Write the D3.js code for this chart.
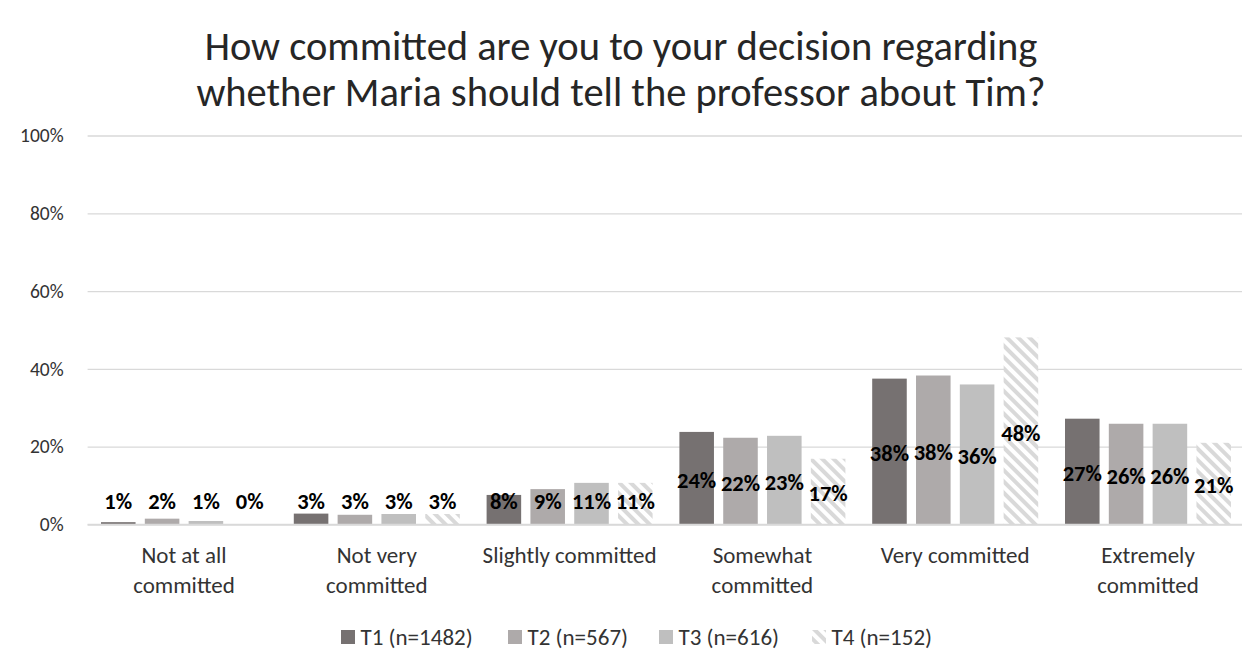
<!DOCTYPE html>
<html>
<head>
<meta charset="utf-8">
<script src="https://cdn.jsdelivr.net/npm/d3@7"></script>
<style>
  html, body { margin: 0; padding: 0; background: #fff; }
  svg { display: block; font-family: Carlito, Calibri, Lato, "Open Sans", sans-serif; }
</style>
</head>
<body>
<svg id="chart" width="1242" height="652"></svg>
<script>
// Commitment levels (x categories), each may wrap onto two lines
const categories = [
  "Not at all committed",
  "Not very committed",
  "Slightly committed",
  "Somewhat committed",
  "Very committed",
  "Extremely committed"
];
const categoryLines = [
  ["Not at all", "committed"],
  ["Not very", "committed"],
  ["Slightly committed"],
  ["Somewhat", "committed"],
  ["Very committed"],
  ["Extremely", "committed"]
];

// Series (time points) and their share of respondents, in percent
const seriesNames = ["T1 (n=1482)", "T2 (n=567)", "T3 (n=616)", "T4 (n=152)"];
const t1 = [0.6, 2.8, 7.6, 23.8, 37.5, 27.2];
const t2 = [1.5, 2.5, 9.1, 22.3, 38.3, 25.9];
const t3 = [0.9, 2.7, 10.7, 22.8, 36.0, 25.9];
const t4 = [0.0, 2.7, 10.7, 16.9, 48.1, 21.0];
const seriesValues = [t1, t2, t3, t4];

const yTicks = [0, 20, 40, 60, 80, 100];
const titleLines = [
  "How committed are you to your decision regarding",
  "whether Maria should tell the professor about Tim?"
];

const svg = d3.select("#chart");
const W = 1242, H = 652;
const plot = { left: 87.6, right: 1244.4, top: 135.5, bottom: 524.5 };

// Hatched fill for the last series
const defs = svg.append("defs");
const pat = defs.append("pattern")
  .attr("id", "hatch")
  .attr("patternUnits", "userSpaceOnUse")
  .attr("width", 8).attr("height", 8)
  .attr("patternTransform", "rotate(-45)");
pat.append("rect").attr("width", 8).attr("height", 8).attr("fill", "#fff");
pat.append("rect").attr("x", 0).attr("y", 0).attr("width", 4).attr("height", 8).attr("fill", "#d9d9d9");

const fills = ["#767171", "#aeaaaa", "#bfbfbf", "url(#hatch)"];
const textColor = "#333";

// Title
svg.append("text")
  .attr("x", W / 2).attr("y", 60)
  .attr("text-anchor", "middle")
  .attr("font-size", 40.5)
  .attr("fill", "#262626")
  .selectAll("tspan").data(titleLines).join("tspan")
  .attr("x", W / 2)
  .attr("dy", (d, i) => i === 0 ? 0 : 46)
  .text(d => d);

// Scales
const x = d3.scaleBand().domain(categories).range([plot.left, plot.right]).padding(0);
const step = x.bandwidth();
const outer = 13.4;
const xs = d3.scaleBand().domain(seriesNames)
  .range([outer, step - outer])
  .paddingInner(9.3 / 44)
  .paddingOuter(0);
const y = d3.scaleLinear().domain([0, 100]).range([plot.bottom, plot.top]);

// Gridlines and y axis labels
const yAxis = d3.axisLeft(y)
  .tickValues(yTicks)
  .tickSize(-(plot.right - plot.left))
  .tickPadding(24)
  .tickFormat(d => d + "%");
const gy = svg.append("g")
  .attr("transform", `translate(${plot.left},0)`)
  .call(yAxis);
gy.select(".domain").remove();
gy.selectAll(".tick line").attr("stroke", "#d9d9d9").attr("stroke-width", 1.3);
gy.selectAll(".tick text")
  .attr("font-size", 19.5)
  .attr("fill", textColor)
  .attr("font-family", "Carlito, Calibri, Lato, sans-serif");

// Bars
const groups = svg.append("g").selectAll("g")
  .data(categories)
  .join("g")
  .attr("transform", d => `translate(${x(d)},0)`);

const barData = (c, ci) => seriesNames.map((s, si) => ({ s, si, v: seriesValues[si][ci] }));

groups.selectAll("rect")
  .data((c, ci) => barData(c, ci))
  .join("rect")
  .attr("x", d => xs(d.s))
  .attr("width", xs.bandwidth())
  .attr("y", d => y(d.v))
  .attr("height", d => plot.bottom - y(d.v))
  .attr("fill", d => fills[d.si]);

// Axis baseline
svg.append("line")
  .attr("x1", plot.left).attr("x2", plot.right)
  .attr("y1", plot.bottom).attr("y2", plot.bottom)
  .attr("stroke", "#d9d9d9").attr("stroke-width", 1.5);

// Value labels: centred in the bar, kept clear of the baseline
groups.selectAll("text.val")
  .data((c, ci) => barData(c, ci))
  .join("text")
  .attr("class", "val")
  .attr("x", d => xs(d.s) + xs.bandwidth() / 2)
  .attr("y", d => Math.min((y(d.v) + plot.bottom) / 2 + 1.5, plot.bottom - 24))
  .attr("dy", "0.36em")
  .attr("text-anchor", "middle")
  .attr("font-size", 22.5)
  .attr("font-weight", "bold")
  .attr("fill", "#000")
  .text(d => Math.round(d.v) + "%");

// Category labels
groups.append("text")
  .attr("x", step / 2)
  .attr("y", 563)
  .attr("text-anchor", "middle")
  .attr("font-size", 23)
  .attr("fill", textColor)
  .selectAll("tspan")
  .data((c, ci) => categoryLines[ci])
  .join("tspan")
  .attr("x", step / 2)
  .attr("dy", (d, i) => i === 0 ? 0 : 30)
  .text(d => d);

// Legend
const legendX = [341, 508, 659, 812];
const lg = svg.append("g").selectAll("g")
  .data(seriesNames)
  .join("g")
  .attr("transform", (d, i) => `translate(${legendX[i]},630)`);
lg.append("rect")
  .attr("width", 14).attr("height", 14)
  .attr("fill", (d, i) => fills[i]);
lg.append("text")
  .attr("x", 19.5).attr("y", 7)
  .attr("dy", "0.35em")
  .attr("font-size", 23)
  .attr("fill", textColor)
  .text(d => d);
</script>
</body>
</html>
